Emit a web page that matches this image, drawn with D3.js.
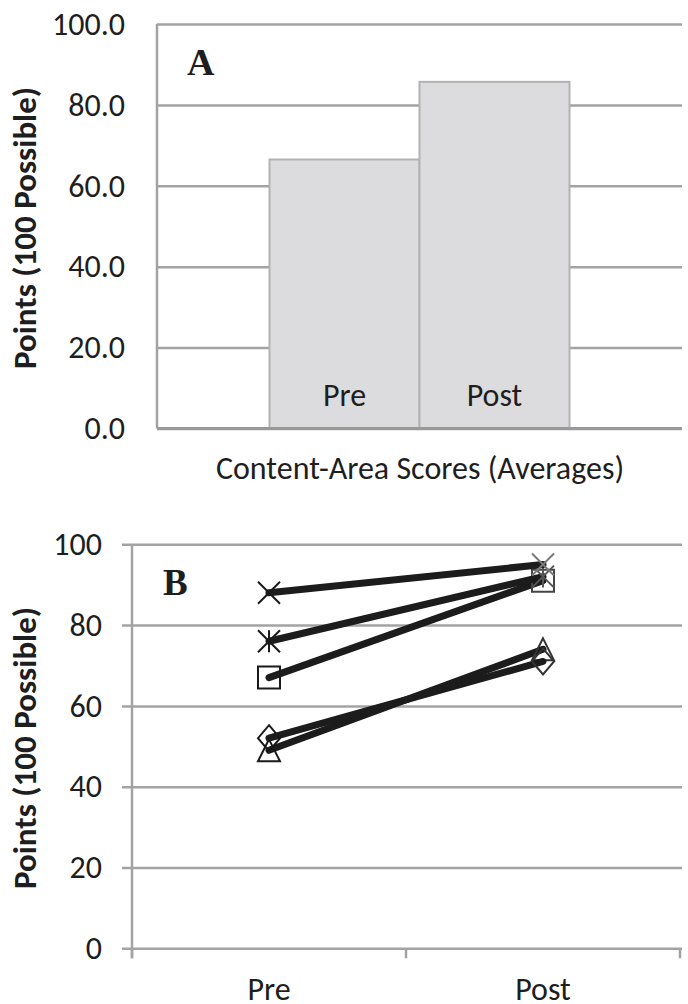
<!DOCTYPE html>
<html>
<head>
<meta charset="utf-8">
<script src="https://cdn.jsdelivr.net/npm/d3@7"></script>
<style>
  html, body { margin: 0; padding: 0; background: #fff; }
  text { font-family: Carlito, Lato, "Open Sans", sans-serif; fill: #1e1e1e; }
</style>
</head>
<body>
<svg id="chart" width="688" height="1004"></svg>
<script>
// panel A - averages
const catsA = ["Pre", "Post"];
const avgA = [66.5, 85.7];
const ticksA = [0, 20, 40, 60, 80, 100];

// panel B - one line per content area
const catsB = ["Pre", "Post"];
const ticksB = [0, 20, 40, 60, 80, 100];
const seriesTriangle = [49, 74];
const seriesDiamond = [52, 71];
const seriesSquare = [67, 91];
const seriesStar = [76, 92];
const seriesCross = [88, 95];

const svg = d3.select("#chart");
const gridColor = "#a3a3a3";
const fontSize = "32px";

// marker shapes, centred on 0,0
function markerPath(type, s) {
  const h = s / 2;
  if (type === "cross") return `M${-h},${-h}L${h},${h}M${-h},${h}L${h},${-h}`;
  if (type === "star") return `M${-h},${-h}L${h},${h}M${-h},${h}L${h},${-h}M0,${-h}L0,${h}`;
  if (type === "square") return `M${-h},${-h}H${h}V${h}H${-h}Z`;
  if (type === "diamond") return `M0,${-h - 2}L${h},0L0,${h + 2}L${-h},0Z`;
  if (type === "triangle") return `M0,${-h}L${h},${h}L${-h},${h}Z`;
}

function yTitle(cy) {
  svg.append("text")
    .attr("transform", `translate(25,${cy}) rotate(-90)`)
    .attr("text-anchor", "middle")
    .attr("dominant-baseline", "central")
    .style("font-weight", "bold")
    .style("font-size", "33px")
    .text("Points (100 Possible)");
}

// ---------- A ----------
const xA = d3.scaleBand().domain(catsA).range([157, 682]).paddingInner(0).paddingOuter(0.75);
const yA = d3.scaleLinear().domain([0, 100]).range([428.5, 24]);

const gA = svg.append("g").attr("transform", "translate(157,0)");
gA.call(d3.axisLeft(yA).tickValues(ticksA).tickFormat(d3.format(".1f"))
    .tickSize(-(682 - 157)).tickPadding(32))
  .call(g => g.select(".domain").remove())
  .call(g => g.selectAll(".tick line").attr("stroke", gridColor).attr("stroke-width", 2.5))
  .call(g => g.selectAll(".tick text").style("font-size", fontSize).attr("fill", "#1e1e1e"));

svg.selectAll(".barA")
  .data(catsA)
  .enter().append("rect")
  .attr("class", "barA")
  .attr("x", d => xA(d))
  .attr("y", (d, i) => yA(avgA[i]))
  .attr("width", xA.bandwidth())
  .attr("height", (d, i) => yA(0) - yA(avgA[i]))
  .attr("fill", "#dcdcde")
  .attr("stroke", "#b2b2b4")
  .attr("stroke-width", 2);

svg.selectAll(".barLabel")
  .data(catsA)
  .enter().append("text")
  .attr("x", d => xA(d) + xA.bandwidth() / 2)
  .attr("y", 406)
  .attr("text-anchor", "middle")
  .style("font-size", fontSize)
  .text(d => d);

svg.append("line").attr("x1", 157).attr("x2", 157).attr("y1", yA(100)).attr("y2", yA(0))
  .attr("stroke", gridColor).attr("stroke-width", 2.5);
svg.append("line").attr("x1", 157).attr("x2", 682).attr("y1", yA(0)).attr("y2", yA(0))
  .attr("stroke", "#999").attr("stroke-width", 3);

svg.append("text").attr("x", 187).attr("y", 75)
  .style("font-family", "'Liberation Serif', serif").style("font-weight", "bold").style("font-size", "38px")
  .text("A");

svg.append("text").attr("x", 420).attr("y", 479).attr("text-anchor", "middle")
  .style("font-size", fontSize)
  .text("Content-Area Scores (Averages)");

yTitle(228);

// ---------- B ----------
const xB = d3.scaleBand().domain(catsB).range([132, 680]).padding(0);
const yB = d3.scaleLinear().domain([0, 100]).range([948.3, 544.3]);

const gB = svg.append("g").attr("transform", "translate(132,0)");
gB.call(d3.axisLeft(yB).tickValues(ticksB).tickFormat(d3.format("d"))
    .tickSize(-(682 - 132)).tickPadding(30))
  .call(g => g.select(".domain").remove())
  .call(g => g.selectAll(".tick line").attr("x1", -10).attr("stroke", gridColor).attr("stroke-width", 2.5))
  .call(g => g.selectAll(".tick text").style("font-size", fontSize).attr("fill", "#1e1e1e"));

svg.append("line").attr("x1", 132).attr("x2", 132).attr("y1", yB(100)).attr("y2", yB(0) + 10)
  .attr("stroke", gridColor).attr("stroke-width", 2.5);

// category ticks sit on band edges
const edgesB = catsB.map(d => xB(d)).concat([xB.range()[1]]);
svg.selectAll(".xtickB")
  .data(edgesB)
  .enter().append("line")
  .attr("x1", d => d).attr("x2", d => d)
  .attr("y1", yB(0)).attr("y2", yB(0) + 10)
  .attr("stroke", gridColor).attr("stroke-width", 2.5);

svg.selectAll(".xlabB")
  .data(catsB)
  .enter().append("text")
  .attr("x", d => xB(d) + xB.bandwidth() / 2)
  .attr("y", 1000)
  .attr("text-anchor", "middle")
  .style("font-size", fontSize)
  .text(d => d);

const seriesB = [
  { marker: "triangle", values: seriesTriangle, size: 22, post: "#333" },
  { marker: "diamond", values: seriesDiamond, size: 22, post: "#333" },
  { marker: "square", values: seriesSquare, size: 22, post: "#444" },
  { marker: "star", values: seriesStar, size: 22, post: "#555" },
  { marker: "cross", values: seriesCross, size: 22, post: "#7a7a7a" }
];

const line = d3.line()
  .x((d, i) => xB(catsB[i]) + xB.bandwidth() / 2)
  .y(d => yB(d));

seriesB.forEach(s => {
  svg.append("path")
    .attr("d", line(s.values))
    .attr("fill", "none")
    .attr("stroke", "#1c1c1c")
    .attr("stroke-width", 7)
    .attr("stroke-linecap", "round");

  svg.selectAll(null)
    .data(s.values)
    .enter().append("path")
    .attr("transform", (d, i) => `translate(${xB(catsB[i]) + xB.bandwidth() / 2},${yB(d)})`)
    .attr("d", markerPath(s.marker, s.size))
    .attr("fill", "none")
    .attr("stroke", (d, i) => i === 0 ? "#1a1a1a" : s.post)
    .attr("stroke-width", 2);
});

svg.append("text").attr("x", 163).attr("y", 595)
  .style("font-family", "'Liberation Serif', serif").style("font-weight", "bold").style("font-size", "37px")
  .text("B");

yTitle(748);
</script>
</body>
</html>
